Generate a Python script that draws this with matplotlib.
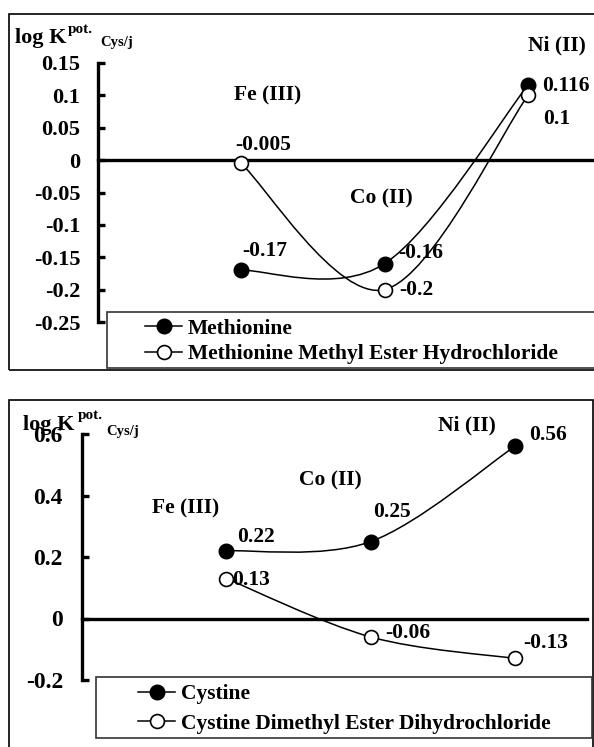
import matplotlib
matplotlib.use("Agg")
import matplotlib.pyplot as plt
from matplotlib.path import Path
from matplotlib.patches import PathPatch, Rectangle
from matplotlib.lines import Line2D

plt.rcParams["font.family"] = ["Liberation Serif", "DejaVu Serif"]
plt.rcParams["font.weight"] = "bold"
plt.rcParams["axes.unicode_minus"] = False

W, H = 594, 747

ions = ["Fe (III)", "Co (II)", "Ni (II)"]
ion_x = [1, 2, 3]

methionine = [-0.17, -0.16, 0.116]
methionine_ester = [-0.005, -0.2, 0.1]
met_ticks = [0.15, 0.1, 0.05, 0, -0.05, -0.1, -0.15, -0.2, -0.25]
met_labels = ["Methionine", "Methionine Methyl Ester Hydrochloride"]

cystine = [0.22, 0.25, 0.56]
cystine_ester = [0.13, -0.06, -0.13]
cys_ticks = [0.6, 0.4, 0.2, 0, -0.2]
cys_labels = ["Cystine", "Cystine Dimethyl Ester Dihydrochloride"]


def fx(x):
    return x / W


def fy(y):
    return 1 - y / H


def smooth_path(xs, ys):
    # excel-like smoothed line: cubic bezier through the points
    pts = list(zip(xs, ys))
    n = len(pts)
    verts = [pts[0]]
    codes = [Path.MOVETO]
    for i in range(n - 1):
        p0 = pts[max(i - 1, 0)]
        p1 = pts[i]
        p2 = pts[i + 1]
        p3 = pts[min(i + 2, n - 1)]
        c1 = (p1[0] + (p2[0] - p0[0]) / 6, p1[1] + (p2[1] - p0[1]) / 6)
        c2 = (p2[0] - (p3[0] - p1[0]) / 6, p2[1] - (p3[1] - p1[1]) / 6)
        verts += [c1, c2, p2]
        codes += [Path.CURVE4] * 3
    return Path(verts, codes)


def draw_panel(fig, box, axbox, ylim, ticks, tick_size, tick_pad, filled, hollow,
               labels, offs_filled, offs_hollow, ion_pos, ylab, legbox, leg_at, leg_space):
    # outer frame
    x0, y0, x1, y1 = box
    fig.patches.append(Rectangle((fx(x0), fy(y1)), fx(x1 - x0), (y1 - y0) / H,
                                 transform=fig.transFigure, fill=False,
                                 lw=1.2, ec="black"))

    left, top, right, bottom = axbox
    ax = fig.add_axes([fx(left), fy(bottom), fx(right - left), (bottom - top) / H])
    ax.patch.set_visible(False)
    ax.set_xlim(0, 3.5)
    ax.set_ylim(*ylim)
    for side in ["top", "right", "bottom"]:
        ax.spines[side].set_visible(False)
    ax.spines["left"].set_linewidth(2.4)
    ax.set_xticks([])
    ax.set_yticks(ticks)
    ax.set_yticklabels([f"{t:g}" for t in ticks])
    ax.tick_params(axis="y", direction="in", length=5, width=2.4,
                   labelsize=tick_size, pad=tick_pad)
    ax.axhline(0, color="black", lw=2.4, clip_on=False)

    for vals in [filled, hollow]:
        ax.add_patch(PathPatch(smooth_path(ion_x, vals), fill=False,
                               ec="black", lw=1.1, clip_on=False))
    ax.plot(ion_x, filled, "o", ms=10.5, mfc="black", mec="black",
            clip_on=False, zorder=5)
    ax.plot(ion_x, hollow, "o", ms=10, mfc="white", mec="black", mew=1.2,
            clip_on=False, zorder=5)

    for vals, offs in [(filled, offs_filled), (hollow, offs_hollow)]:
        for x, v, (dx, dy, ha) in zip(ion_x, vals, offs):
            ax.annotate(f"{v:g}", (x, v), xytext=(dx, -dy),
                        textcoords="offset pixels", ha=ha, va="center",
                        fontsize=15.5, fontweight="bold", zorder=6)

    for name, (cx, cy) in zip(ions, ion_pos):
        fig.text(fx(cx), fy(cy), name, ha="center", va="center",
                 fontsize=15.5, fontweight="bold")

    (lx, ly), (px, py), (sx, sy) = ylab
    fig.text(fx(lx), fy(ly), "log K", fontsize=16, fontweight="bold",
             va="baseline")
    fig.text(fx(px), fy(py), "pot.", fontsize=11, fontweight="bold",
             va="baseline")
    fig.text(fx(sx), fy(sy), "Cys/j", fontsize=10.5, fontweight="bold",
             va="baseline")

    # legend frame + frameless legend
    a, b, c, d = legbox
    fig.patches.append(Rectangle((fx(a), fy(d)), fx(c - a), (d - b) / H,
                                 transform=fig.transFigure, fc="white",
                                 lw=1.2, ec="#333333", zorder=3))
    handles = [
        Line2D([], [], color="black", lw=1.1, marker="o", ms=10.5,
               mfc="black", mec="black"),
        Line2D([], [], color="black", lw=1.1, marker="o", ms=10,
               mfc="white", mec="black", mew=1.2),
    ]
    leg = fig.legend(handles, labels, loc="center left",
                     bbox_to_anchor=(fx(leg_at[0]), fy(leg_at[1])),
                     frameon=False, borderpad=0, borderaxespad=0,
                     handlelength=1.72, handletextpad=0.28,
                     labelspacing=leg_space, numpoints=1,
                     prop={"size": 15.5, "weight": "bold"})
    leg.set_zorder(4)
    return ax


fig = plt.figure(figsize=(W / 100, H / 100), dpi=100)

draw_panel(
    fig,
    box=(9, 14, 600, 370),
    axbox=(97.5, 63, 97.5 + 3.5 * 143.5, 322),
    ylim=(-0.25, 0.15),
    ticks=met_ticks,
    tick_size=16,
    tick_pad=12.5,
    filled=methionine,
    hollow=methionine_ester,
    labels=met_labels,
    offs_filled=[(23.5, -19, "center"), (14, -11, "left"), (14, 1, "left")],
    offs_hollow=[(22.5, -18, "center"), (15, 0, "left"), (15, 24, "left")],
    ion_pos=[(268, 95), (381.5, 198), (556.5, 45)],
    ylab=((15, 43.5), (68, 33), (100, 46)),
    legbox=(107, 312, 600, 368),
    leg_at=(145, 341.5),
    leg_space=0.24,
)

draw_panel(
    fig,
    box=(9, 400, 593, 760),
    axbox=(82, 434, 82 + 3.5 * 144.3, 680),
    ylim=(-0.2, 0.6),
    ticks=cys_ticks,
    tick_size=17,
    tick_pad=13.7,
    filled=cystine,
    hollow=cystine_ester,
    labels=cys_labels,
    offs_filled=[(11, -14, "left"), (21, -30, "center"), (14, -11, "left")],
    offs_hollow=[(6, 1, "left"), (15, -4, "left"), (8, -15, "left")],
    ion_pos=[(186, 508), (330, 480), (467, 425)],
    ylab=((23, 430), (78, 419), (106, 435)),
    legbox=(96, 677, 592, 738),
    leg_at=(138, 709),
    leg_space=0.42,
)

fig.savefig("out.png", dpi=100)
